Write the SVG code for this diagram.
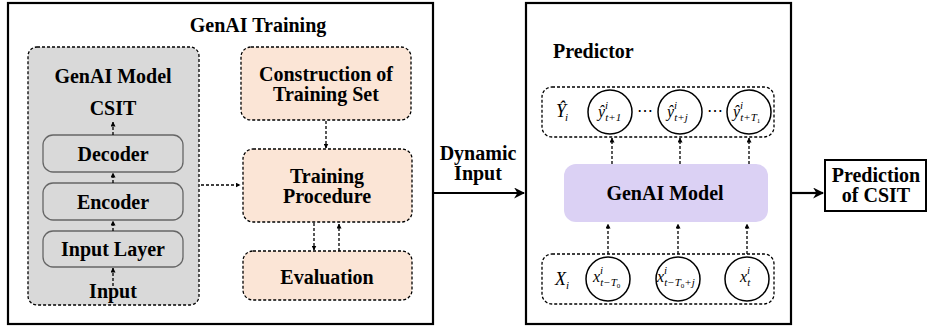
<svg xmlns="http://www.w3.org/2000/svg" width="928" height="328" viewBox="0 0 928 328">
<defs>
<style>
.t{font-family:"Liberation Serif","Times New Roman",serif;font-weight:bold;font-size:20px;fill:#000;text-anchor:middle}
.m{font-family:"Liberation Serif","Times New Roman",serif;font-style:italic;font-size:16px;fill:#000}
.s{font-size:11px}
.outer{fill:#fff;stroke:#000;stroke-width:2.2}
.dash{stroke:#000;stroke-width:1.3;stroke-dasharray:3 2;fill:none}
.layer{fill:#d9d9d9;stroke:#666;stroke-width:1.3}
.circ{fill:#fff;stroke:#000;stroke-width:1.5}
.da{stroke:#000;stroke-width:1.3;stroke-dasharray:3 2;fill:none;marker-end:url(#sa)}
.so{stroke:#000;stroke-width:2.2;fill:none;marker-end:url(#la)}
</style>
<marker id="sa" viewBox="0 0 10 10" refX="9" refY="5" markerWidth="5" markerHeight="5" markerUnits="userSpaceOnUse" orient="auto"><path d="M0,0 L10,5 L0,10 z" fill="#000"/></marker>
<marker id="la" viewBox="0 0 10 10" refX="9" refY="5" markerWidth="11" markerHeight="11" markerUnits="userSpaceOnUse" orient="auto"><path d="M0,0 L10,5 L0,10 L3,5 z" fill="#000"/></marker>
</defs>
<rect width="928" height="328" fill="#fff"/>

<g id="genai-training">
<rect class="outer" x="8" y="3" width="425" height="321"/>
<text class="t" x="258" y="32">GenAI Training</text>
</g>

<g id="genai-model-left">
<rect x="28" y="47" width="171" height="258" rx="9" class="dash" style="fill:#d9d9d9"/>
<text class="t" x="113" y="83">GenAI Model</text>
<text class="t" x="113" y="115">CSIT</text>
<text class="t" x="113" y="298">Input</text>
</g>
<g id="decoder"><rect class="layer" x="43" y="135" width="140" height="37" rx="10"/><text class="t" x="113" y="161">Decoder</text></g>
<g id="encoder"><rect class="layer" x="43" y="183" width="140" height="37" rx="10"/><text class="t" x="113" y="209">Encoder</text></g>
<g id="input-layer"><rect class="layer" x="43" y="231" width="140" height="36" rx="10"/><text class="t" x="113" y="256">Input Layer</text></g>

<g id="construction"><rect x="241" y="47" width="170" height="73" rx="10" class="dash" style="fill:#fbe5d6"/><text class="t" x="326" y="81">Construction of</text><text class="t" x="326" y="101">Training Set</text></g>
<g id="training-procedure"><rect x="243" y="149" width="169" height="73" rx="10" class="dash" style="fill:#fbe5d6"/><text class="t" x="327" y="183">Training</text><text class="t" x="327" y="203">Procedure</text></g>
<g id="evaluation"><rect x="243" y="251" width="169" height="49" rx="10" class="dash" style="fill:#fbe5d6"/><text class="t" x="327" y="284">Evaluation</text></g>

<g id="predictor">
<rect class="outer" x="526" y="3" width="265" height="321"/>
<text class="t" x="553" y="58" style="text-anchor:start">Predictor</text>
</g>

<g id="y-row">
<rect class="dash" x="542" y="87" width="232" height="50" rx="10"/>
<text class="m" x="556" y="117" style="font-size:18px">Ŷ<tspan class="s" dx="-1" dy="4">i</tspan></text>
<circle class="circ" cx="610" cy="112" r="22"/>
<circle class="circ" cx="680" cy="112" r="22"/>
<circle class="circ" cx="749" cy="112" r="22"/>
<text class="m" x="598" y="117">ŷ<tspan class="s" dx="0" dy="-8">i</tspan><tspan class="s" dx="-3" dy="12">t+1</tspan></text>
<text class="m" x="667" y="117">ŷ<tspan class="s" dx="0" dy="-8">i</tspan><tspan class="s" dx="-3" dy="12">t+j</tspan></text>
<text class="m" x="733" y="117">ŷ<tspan class="s" dx="0" dy="-8">i</tspan><tspan class="s" dx="-3" dy="12">t+T</tspan><tspan style="font-size:7px;font-style:normal" dy="2">1</tspan></text>
<text class="m" x="645" y="116" style="text-anchor:middle;font-style:normal">⋯</text>
<text class="m" x="715" y="116" style="text-anchor:middle;font-style:normal">⋯</text>
</g>

<g id="genai-model-right">
<rect x="564" y="164" width="204" height="58" rx="12" fill="#dbd1f4"/>
<text class="t" x="665" y="200">GenAI Model</text>
</g>

<g id="x-row">
<rect class="dash" x="542" y="254" width="232" height="50" rx="10"/>
<text class="m" x="555" y="285" style="font-size:18px">X<tspan class="s" dx="0" dy="4">i</tspan></text>
<circle class="circ" cx="608" cy="279" r="22"/>
<circle class="circ" cx="678" cy="279" r="22"/>
<circle class="circ" cx="747" cy="279" r="22"/>
<text class="m" x="593" y="282">x<tspan class="s" dx="0" dy="-8">i</tspan><tspan class="s" dx="-3" dy="12">t−T</tspan><tspan style="font-size:7px;font-style:normal" dy="2">0</tspan></text>
<text class="m" x="657" y="282">x<tspan class="s" dx="0" dy="-8">i</tspan><tspan class="s" dx="-3" dy="12">t−T</tspan><tspan style="font-size:7px;font-style:normal" dy="2">0</tspan><tspan class="s" dy="-2">+j</tspan></text>
<text class="m" x="740" y="282">x<tspan class="s" dx="0" dy="-8">i</tspan><tspan class="s" dx="-3" dy="12">t</tspan></text>
</g>

<g id="dynamic-input-label">
<text class="t" x="478" y="160">Dynamic</text>
<text class="t" x="478" y="180">Input</text>
</g>

<g id="prediction-of-csit">
<rect x="825" y="160" width="101" height="51" fill="#fff" stroke="#000" stroke-width="2"/>
<text class="t" x="876" y="182">Prediction</text>
<text class="t" x="876" y="202">of CSIT</text>
</g>

<g id="connectors">
<line class="da" x1="113" y1="286" x2="113" y2="268"/>
<line class="da" x1="113" y1="231" x2="113" y2="221"/>
<line class="da" x1="113" y1="183" x2="113" y2="173"/>
<line class="da" x1="113" y1="135" x2="113" y2="122"/>
<line class="da" x1="201" y1="185" x2="240" y2="185"/>
<line class="da" x1="326" y1="121" x2="326" y2="148"/>
<line class="da" x1="314" y1="223" x2="314" y2="250"/>
<line class="da" x1="339" y1="251" x2="339" y2="224"/>
<line class="so" x1="433" y1="193" x2="524" y2="193"/>
<line class="so" x1="791" y1="193" x2="823" y2="193"/>
<line class="da" x1="612" y1="164" x2="612" y2="138"/>
<line class="da" x1="680" y1="164" x2="680" y2="138"/>
<line class="da" x1="749" y1="164" x2="749" y2="138"/>
<line class="da" x1="608" y1="254" x2="608" y2="224"/>
<line class="da" x1="678" y1="254" x2="678" y2="224"/>
<line class="da" x1="747" y1="254" x2="747" y2="224"/>
</g>
</svg>
